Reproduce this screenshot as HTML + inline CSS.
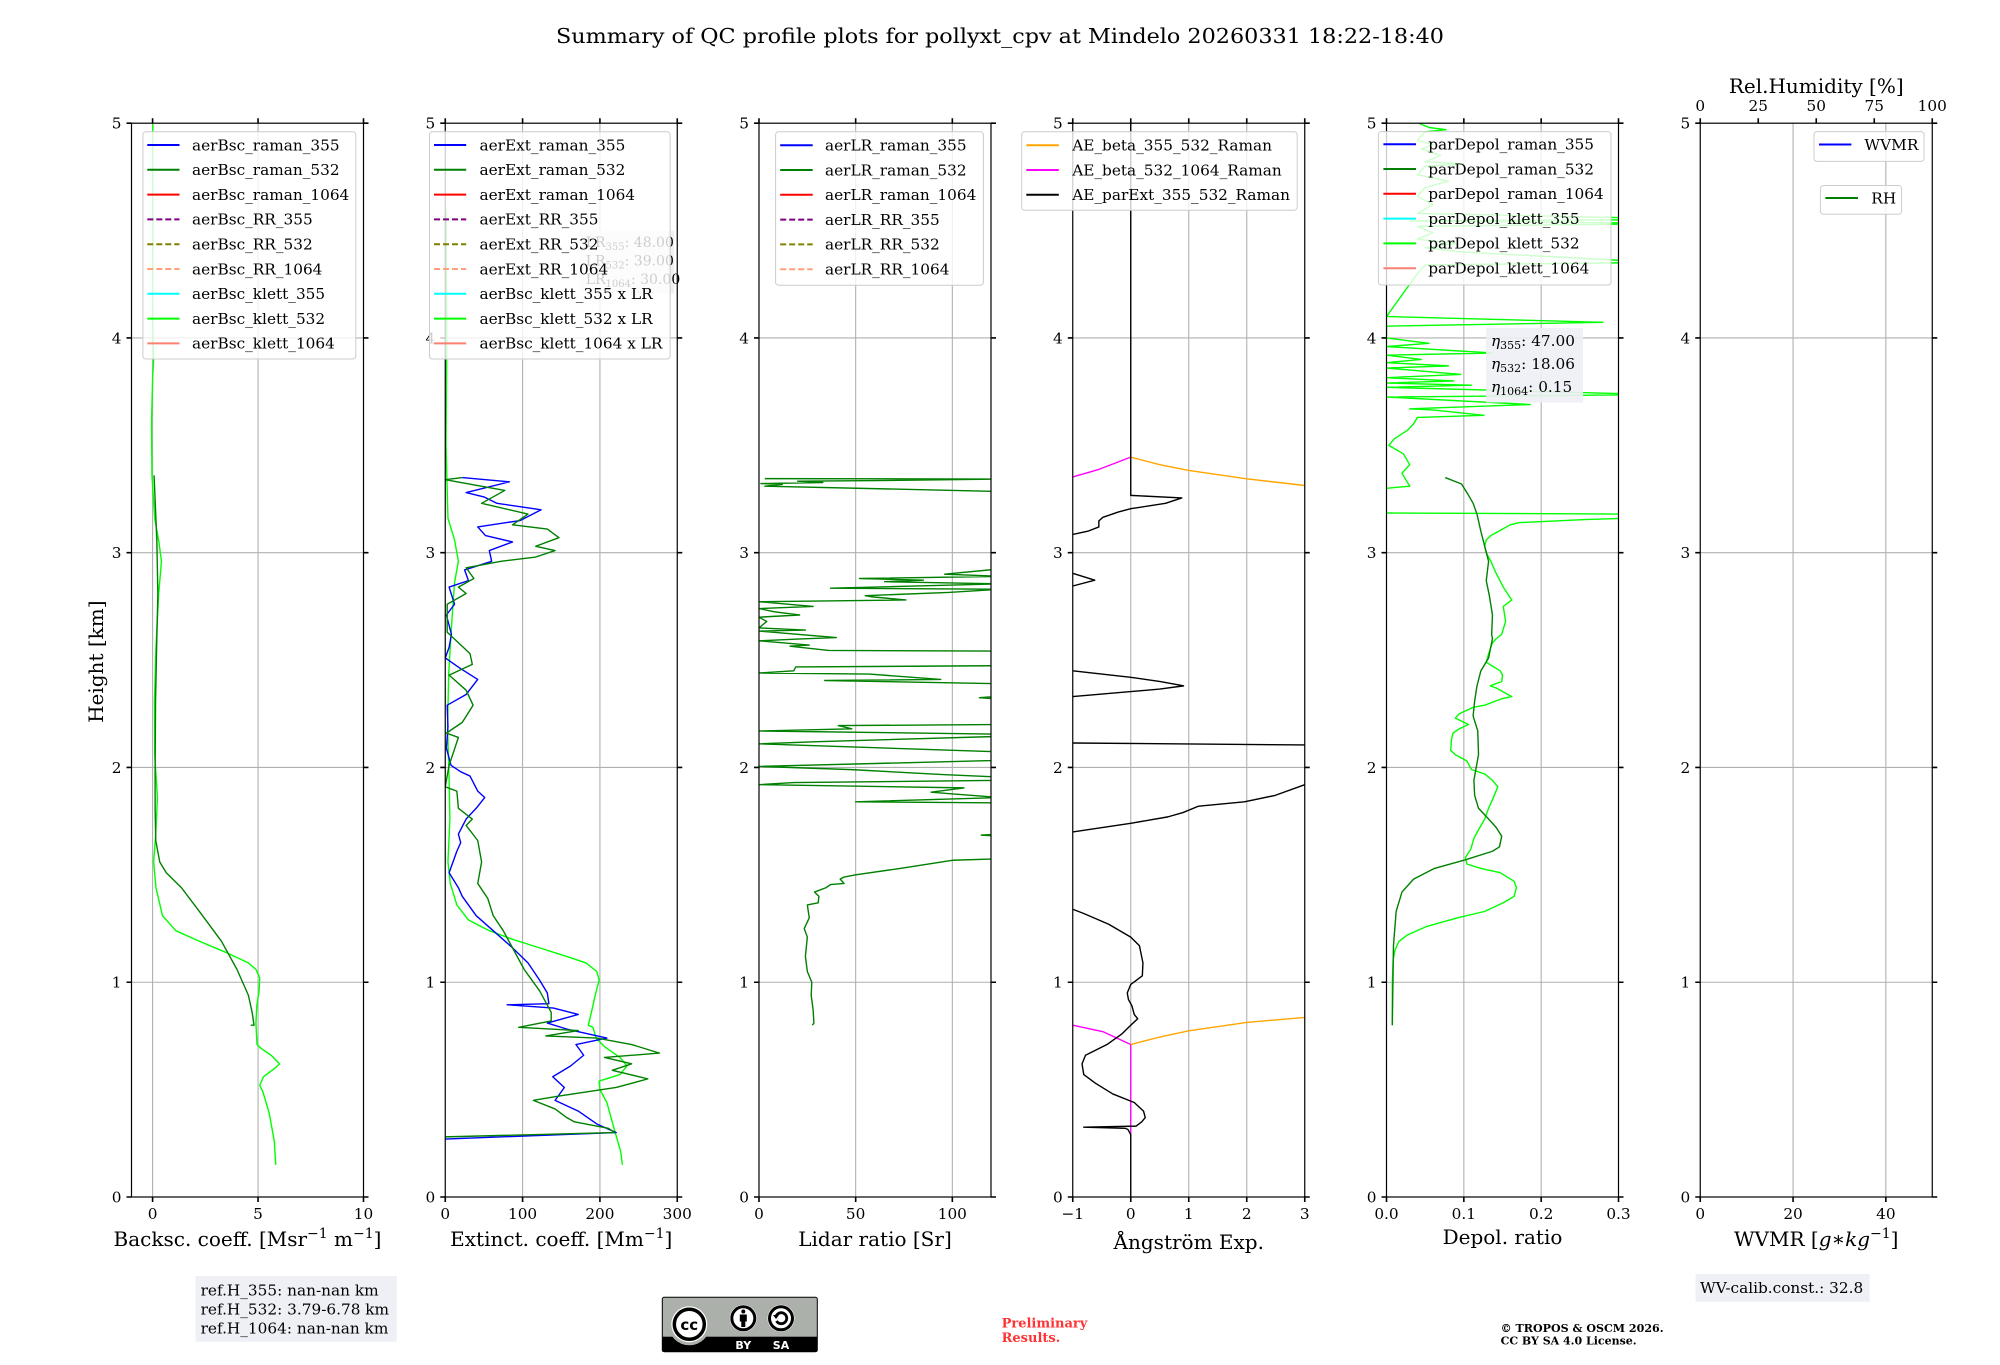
<!DOCTYPE html>
<html><head><meta charset="utf-8"><style>
html,body{margin:0;padding:0;background:#fff}
svg text{font-family:"DejaVu Serif","Liberation Serif",serif;fill:#000}
.d{fill:none;stroke-width:1.4;vector-effect:non-scaling-stroke;stroke-linejoin:round}
.g{stroke:#b0b0b0;stroke-width:1.1}
.t{stroke:#000;stroke-width:1.6}
.lg{fill:#fff;fill-opacity:0.8;stroke:#cccccc;stroke-width:1}
.h{stroke-width:2}
.f{font-size:15.3px}
.xl{font-size:20px}
</style></head><body>
<svg xmlns="http://www.w3.org/2000/svg" width="2000" height="1360" viewBox="0 0 2000 1360">
<defs>
<clipPath id="c1"><rect x="131.5" y="123.2" width="232" height="1073.8"/></clipPath>
<clipPath id="c2"><rect x="445.25" y="123.2" width="232" height="1073.8"/></clipPath>
<clipPath id="c3"><rect x="759" y="123.2" width="232" height="1073.8"/></clipPath>
<clipPath id="c4"><rect x="1072.75" y="123.2" width="232" height="1073.8"/></clipPath>
<clipPath id="c5"><rect x="1386.5" y="123.2" width="232" height="1073.8"/></clipPath>
</defs>
<rect width="2000" height="1360" fill="#fff"/>
<text x="1000" y="43" text-anchor="middle" style="font-size:20.8px" textLength="888" lengthAdjust="spacingAndGlyphs">Summary of QC profile plots for pollyxt_cpv at Mindelo 20260331 18:22-18:40</text>

<!-- horizontal gridlines all panels -->
<g class="g">
<path d="M131.5 982.24H363.5M131.5 767.48H363.5M131.5 552.72H363.5M131.5 337.96H363.5"/>
<path d="M445.25 982.24H677.25M445.25 767.48H677.25M445.25 552.72H677.25M445.25 337.96H677.25"/>
<path d="M759 982.24H991M759 767.48H991M759 552.72H991M759 337.96H991"/>
<path d="M1072.75 982.24H1304.75M1072.75 767.48H1304.75M1072.75 552.72H1304.75M1072.75 337.96H1304.75"/>
<path d="M1386.5 982.24H1618.5M1386.5 767.48H1618.5M1386.5 552.72H1618.5M1386.5 337.96H1618.5"/>
<path d="M1700.25 982.24H1932.25M1700.25 767.48H1932.25M1700.25 552.72H1932.25M1700.25 337.96H1932.25"/>
<!-- vertical -->
<path d="M152.59 123.2V1197M258.05 123.2V1197"/>
<path d="M522.58 123.2V1197M599.92 123.2V1197"/>
<path d="M855.67 123.2V1197M952.33 123.2V1197"/>
<path d="M1130.75 123.2V1197M1188.75 123.2V1197M1246.75 123.2V1197"/>
<path d="M1463.83 123.2V1197M1541.17 123.2V1197"/>
<path d="M1793.05 123.2V1197M1885.85 123.2V1197"/>
</g>

<!-- Panel 1 data -->
<g clip-path="url(#c1)"><g transform="translate(152.59,1197) scale(21.0909,-214.76)">
<polyline class="d" stroke="#00ff00" points="0.02,5.05 0,4.8 0.02,4.5 0,4.2 0.02,4 0.05,3.9 0,3.81 -0.05,3.6 -0.03,3.36 0.1,3.16 0.3,3.05 0.42,2.96 0.29,2.81 0.16,2.56 0.09,2.31 0.1,2.06 0.23,1.86 0.15,1.69 0.05,1.56 0.16,1.44 0.47,1.31 1.1,1.24 2,1.2 3.45,1.14 4.54,1.09 4.9,1.06 5.08,1.02 5.05,0.96 4.94,0.89 4.9,0.81 4.95,0.71 5.17,0.69 5.62,0.66 6.02,0.62 5.8,0.6 5.26,0.56 5.08,0.52 5.23,0.49 5.53,0.39 5.77,0.26 5.84,0.15"/>
<polyline class="d" stroke="#008000" points="0.07,3.36 0.2,3.06 0.25,2.81 0.2,2.6 0.14,2.31 0.12,2 0.12,1.81 0.15,1.66 0.34,1.56 0.65,1.51 1.37,1.44 2.37,1.31 3.27,1.19 4,1.06 4.54,0.94 4.72,0.86 4.81,0.8 4.68,0.8 4.8,0.8"/>
</g></g>

<!-- Panel 2 data -->
<g clip-path="url(#c2)"><g transform="translate(445.25,1197) scale(0.77333,-214.76)">
<polyline class="d" stroke="#00ff00" points="1,4.6 2,4 1,3.5 3.5,3.16 12,3.06 17,2.96 12,2.86 8.5,2.68 4.5,2.44 3,2.19 5,1.94 6,1.76 3.5,1.56 6.5,1.46 15,1.36 30,1.29 57,1.24 87,1.2 122,1.16 157,1.12 182,1.09 196,1.05 199,1.01 194,0.94 189,0.86 185,0.8 191,0.79 195,0.74 206,0.7 226,0.65 235,0.61 226,0.57 199,0.54 200,0.5 209,0.44 219,0.31 227,0.21 229,0.15"/>
<polyline class="d" stroke="#0000ff" points="22,3.35 83,3.33 27,3.28 50,3.26 67,3.23 124,3.2 97,3.15 42,3.12 52,3.08 87,3.05 57,3.01 60,2.96 25,2.92 30,2.87 5,2.84 12,2.76 1.5,2.71 8,2.62 5,2.56 0,2.51 20,2.46 42,2.41 27,2.34 2.5,2.29 3.5,2.19 1.5,2.09 7.5,2.01 20,1.98 32,1.96 42,1.89 51,1.86 40,1.81 27,1.76 17,1.69 20,1.65 15,1.61 5,1.51 17,1.44 22,1.4 30,1.36 40,1.31 62,1.24 87,1.16 107,1.09 122,1.01 132,0.95 134,0.9 80,0.895 140,0.88 172,0.85 132,0.81 159,0.78 209,0.74 169,0.71 179,0.66 162,0.61 139,0.56 154,0.51 142,0.45 172,0.4 196,0.34 221,0.3 0,0.27"/>
<polyline class="d" stroke="#008000" points="22,3.35 0,3.34 77,3.29 47,3.23 107,3.18 87,3.13 132,3.11 147,3.07 117,3.03 142,3.01 117,2.98 72,2.96 27,2.93 37,2.88 17,2.84 27,2.81 2.5,2.76 2.5,2.63 32,2.53 35,2.48 5,2.43 27,2.36 36,2.29 22,2.21 1.5,2.16 17,2.14 5,2.01 0,1.91 15,1.89 17,1.81 35,1.76 27,1.73 42,1.66 47,1.56 42,1.46 55,1.39 62,1.31 75,1.24 87,1.16 102,1.06 122,0.96 137,0.86 137,0.82 95,0.79 172,0.775 130,0.75 196,0.74 241,0.71 277,0.67 206,0.65 241,0.62 216,0.59 262,0.55 221,0.51 147,0.47 114,0.45 142,0.41 157,0.37 167,0.35 211,0.32 219,0.3 0,0.28"/>
</g></g>

<!-- Panel 3 data -->
<g clip-path="url(#c3)"><g transform="translate(759,1197) scale(1.93333,-214.76)">
<polyline class="d" stroke="#008000" points="3,3.345 125,3.343 62,3.336 20,3.333 33,3.327 1,3.322 12,3.318 3,3.31 125,3.285 300,3.1 125,2.925 96,2.9 125,2.89 52,2.88 85,2.872 65,2.865 125,2.855 37,2.835 125,2.83 98,2.815 55,2.8 58,2.795 76,2.78 0,2.772 28,2.75 0,2.74 8,2.725 21,2.71 0,2.7 4,2.68 0,2.65 24,2.64 0,2.635 40,2.605 20,2.598 0,2.59 26,2.57 16,2.565 36,2.545 125,2.542 200,2.5 125,2.474 19,2.468 18,2.45 0,2.44 57,2.435 94,2.41 34,2.405 125,2.39 150,2.35 114,2.325 125,2.318 200,2.25 125,2.2 41,2.195 48,2.18 0,2.17 125,2.155 125,2.145 30,2.12 0,2.11 200,2.05 0,2.005 48,1.99 95,1.967 125,1.955 125,1.94 18,1.93 0,1.92 106,1.905 89,1.885 101,1.876 125,1.86 50,1.84 125,1.835 200,1.75 125,1.69 115,1.685 125,1.68 200,1.62 125,1.575 100,1.568 73,1.53 50,1.5 44,1.49 42,1.48 44,1.46 37,1.455 34.6,1.44 28.7,1.42 31,1.4 30.6,1.37 25,1.36 26,1.3 23.4,1.25 25,1.21 24,1.12 25,1.05 27.3,1 27,0.94 28,0.87 28.4,0.81 27.6,0.8"/>
</g></g>

<!-- Panel 4 data -->
<g clip-path="url(#c4)"><g transform="translate(1130.75,1197) scale(58,-214.76)">
<polyline class="d" stroke="#ff00ff" points="-1,3.353 -0.55,3.388 0,3.445"/>
<polyline class="d" stroke="#ffa500" points="0,3.445 0.5,3.41 1,3.383 2,3.344 3,3.313"/>
<polyline class="d" stroke="#ff00ff" points="-1,0.8 -0.48,0.77 0,0.71 0,0.29"/>
<polyline class="d" stroke="#ffa500" points="0,0.71 0.5,0.745 1,0.774 2,0.813 3,0.836"/>
<polyline class="d" stroke="#000" points="0,5.1 0,3.267 0.88,3.255 0.6,3.23 0,3.205 -0.21,3.19 -0.48,3.165 -0.55,3.148 -0.55,3.12 -0.74,3.1 -1,3.085 -2,3 -1,2.904 -0.62,2.872 -1,2.845 -2,2.6 -1,2.45 0,2.42 0.51,2.4 0.91,2.38 0.5,2.365 -0.15,2.35 -1,2.33 -2,2.2 -1,2.114 3,2.105 4,2 3,1.92 2.49,1.87 1.96,1.84 1.17,1.82 0.9,1.79 0.64,1.77 0,1.74 -1,1.7 -2,1.5 -1,1.34 -0.81,1.32 -0.38,1.27 0,1.21 0.15,1.17 0.21,1.09 0.2,1.03 0,0.99 -0.06,0.95 -0.04,0.92 0.02,0.89 0.06,0.85 0.12,0.83 0,0.8 -0.15,0.76 -0.41,0.71 -0.78,0.66 -0.84,0.62 -0.81,0.57 -0.61,0.53 -0.31,0.48 0.06,0.44 0.22,0.4 0.25,0.37 0.19,0.35 0.09,0.33 -0.81,0.325 -0.1,0.32 -0.05,0.315 0,0.29 0,0"/>
</g></g>

<!-- Panel 5 data -->
<g clip-path="url(#c5)"><g transform="translate(1386.5,1197) scale(773.333,-214.76)">
<polyline class="d" stroke="#00ff00" points="0.042,5 0.055,4.98 0.077,4.97 0.05,4.96 0.04,4.92 0.06,4.9 0.045,4.88 0.07,4.85 0.05,4.82 0.1,4.81 0.05,4.8 0.04,4.76 0.08,4.73 0.05,4.7 0.04,4.66 0.06,4.62 0.04,4.58 0.31,4.56 0.31,4.55 0.03,4.545 0.31,4.535 0.31,4.53 0.04,4.52 0.06,4.49 0.04,4.46 0.09,4.44 0.05,4.42 0.1,4.4 0.31,4.36 0.31,4.35 0.05,4.34 0.04,4.3 0.03,4.25 0.02,4.2 0.01,4.15 0,4.1 0.28,4.073 0,4.055 0,4 0.055,3.975 0,3.96 0.137,3.93 0,3.92 0.045,3.9 0,3.885 0.08,3.87 0,3.86 0.096,3.83 0,3.815 0.087,3.8 0,3.79 0.11,3.78 0,3.77 0.31,3.74 0.31,3.735 0,3.725 0.186,3.69 0.03,3.67 0.06,3.665 0.126,3.64 0.04,3.63 0.035,3.6 0.027,3.57 0.01,3.53 0.003,3.5 0.022,3.46 0.03,3.41 0.02,3.37 0.025,3.34 0.03,3.31 0,3.3 -0.05,3.25 0,3.185 0.31,3.18 0.31,3.16 0.26,3.155 0.171,3.14 0.16,3.13 0.15,3.11 0.135,3.08 0.129,3.06 0.127,3.03 0.129,3 0.135,2.96 0.141,2.91 0.151,2.84 0.162,2.78 0.151,2.75 0.154,2.68 0.149,2.62 0.142,2.6 0.137,2.58 0.132,2.53 0.129,2.49 0.147,2.45 0.15,2.43 0.149,2.4 0.134,2.38 0.142,2.37 0.162,2.33 0.149,2.32 0.127,2.29 0.112,2.28 0.094,2.25 0.089,2.23 0.106,2.2 0.094,2.18 0.086,2.16 0.084,2.13 0.083,2.08 0.089,2.06 0.104,2.03 0.11,1.99 0.127,1.97 0.137,1.94 0.144,1.91 0.137,1.85 0.132,1.81 0.127,1.76 0.119,1.71 0.113,1.67 0.109,1.62 0.102,1.58 0.104,1.55 0.122,1.53 0.147,1.51 0.165,1.47 0.168,1.44 0.165,1.4 0.151,1.37 0.127,1.33 0.092,1.3 0.052,1.26 0.027,1.22 0.016,1.19 0.011,1.15 0.0085,1.1 0.0075,0.99 0.0075,0.8"/>
<polyline class="d" stroke="#008000" points="0.076,3.35 0.097,3.32 0.104,3.28 0.112,3.23 0.117,3.18 0.122,3.1 0.127,3.03 0.132,2.96 0.129,2.87 0.133,2.8 0.137,2.71 0.136,2.62 0.137,2.6 0.132,2.51 0.122,2.45 0.117,2.38 0.114,2.31 0.112,2.24 0.118,2.17 0.119,2.06 0.116,2 0.113,1.94 0.114,1.87 0.119,1.81 0.132,1.76 0.142,1.72 0.149,1.68 0.146,1.63 0.137,1.61 0.102,1.57 0.062,1.53 0.035,1.48 0.02,1.42 0.0125,1.33 0.009,1.17 0.0075,0.8"/>
</g></g>

<!-- spines -->
<g fill="none" stroke="#000" stroke-width="1.2">
<rect x="131.5" y="123.2" width="232" height="1073.8"/>
<rect x="445.25" y="123.2" width="232" height="1073.8"/>
<rect x="759" y="123.2" width="232" height="1073.8"/>
<rect x="1072.75" y="123.2" width="232" height="1073.8"/>
<rect x="1386.5" y="123.2" width="232" height="1073.8"/>
<rect x="1700.25" y="123.2" width="232" height="1073.8"/>
</g>

<!-- y ticks left & right for all panels -->
<g class="t">
<path d="M126.5 1197H131.5M126.5 982.24H131.5M126.5 767.48H131.5M126.5 552.72H131.5M126.5 337.96H131.5M126.5 123.2H131.5M363.5 1197H368.5M363.5 982.24H368.5M363.5 767.48H368.5M363.5 552.72H368.5M363.5 337.96H368.5M363.5 123.2H368.5"/>
<path d="M440.25 1197H445.25M440.25 982.24H445.25M440.25 767.48H445.25M440.25 552.72H445.25M440.25 337.96H445.25M440.25 123.2H445.25M677.25 1197H682.25M677.25 982.24H682.25M677.25 767.48H682.25M677.25 552.72H682.25M677.25 337.96H682.25M677.25 123.2H682.25"/>
<path d="M754 1197H759M754 982.24H759M754 767.48H759M754 552.72H759M754 337.96H759M754 123.2H759M991 1197H996M991 982.24H996M991 767.48H996M991 552.72H996M991 337.96H996M991 123.2H996"/>
<path d="M1067.75 1197H1072.75M1067.75 982.24H1072.75M1067.75 767.48H1072.75M1067.75 552.72H1072.75M1067.75 337.96H1072.75M1067.75 123.2H1072.75M1304.75 1197H1309.75M1304.75 982.24H1309.75M1304.75 767.48H1309.75M1304.75 552.72H1309.75M1304.75 337.96H1309.75M1304.75 123.2H1309.75"/>
<path d="M1381.5 1197H1386.5M1381.5 982.24H1386.5M1381.5 767.48H1386.5M1381.5 552.72H1386.5M1381.5 337.96H1386.5M1381.5 123.2H1386.5M1618.5 1197H1623.5M1618.5 982.24H1623.5M1618.5 767.48H1623.5M1618.5 552.72H1623.5M1618.5 337.96H1623.5M1618.5 123.2H1623.5"/>
<path d="M1695.25 1197H1700.25M1695.25 982.24H1700.25M1695.25 767.48H1700.25M1695.25 552.72H1700.25M1695.25 337.96H1700.25M1695.25 123.2H1700.25M1932.25 1197H1937.25M1932.25 982.24H1937.25M1932.25 767.48H1937.25M1932.25 552.72H1937.25M1932.25 337.96H1937.25M1932.25 123.2H1937.25"/>
<!-- x ticks bottom/top -->
<path d="M152.59 1197V1202M258.05 1197V1202M363.5 1197V1202M152.59 123.2V118.2M258.05 123.2V118.2M363.5 123.2V118.2"/>
<path d="M445.25 1197V1202M522.58 1197V1202M599.92 1197V1202M677.25 1197V1202M445.25 123.2V118.2M522.58 123.2V118.2M599.92 123.2V118.2M677.25 123.2V118.2"/>
<path d="M759 1197V1202M855.67 1197V1202M952.33 1197V1202M759 123.2V118.2M855.67 123.2V118.2M952.33 123.2V118.2"/>
<path d="M1072.75 1197V1202M1130.75 1197V1202M1188.75 1197V1202M1246.75 1197V1202M1304.75 1197V1202M1072.75 123.2V118.2M1130.75 123.2V118.2M1188.75 123.2V118.2M1246.75 123.2V118.2M1304.75 123.2V118.2"/>
<path d="M1386.5 1197V1202M1463.83 1197V1202M1541.17 1197V1202M1618.5 1197V1202M1386.5 123.2V118.2M1463.83 123.2V118.2M1541.17 123.2V118.2M1618.5 123.2V118.2"/>
<path d="M1700.25 1197V1202M1793.05 1197V1202M1885.85 1197V1202M1700.25 123.2V118.2M1758.25 123.2V118.2M1816.25 123.2V118.2M1874.25 123.2V118.2M1932.25 123.2V118.2"/>
</g>

<!-- y tick labels -->
<g class="f" text-anchor="end">
<text x="121.5" y="1202.5">0</text><text x="121.5" y="987.7">1</text><text x="121.5" y="773">2</text><text x="121.5" y="558.2">3</text><text x="121.5" y="343.5">4</text><text x="121.5" y="128.7">5</text>
<text x="435.25" y="1202.5">0</text><text x="435.25" y="987.7">1</text><text x="435.25" y="773">2</text><text x="435.25" y="558.2">3</text><text x="435.25" y="343.5">4</text><text x="435.25" y="128.7">5</text>
<text x="749" y="1202.5">0</text><text x="749" y="987.7">1</text><text x="749" y="773">2</text><text x="749" y="558.2">3</text><text x="749" y="343.5">4</text><text x="749" y="128.7">5</text>
<text x="1062.75" y="1202.5">0</text><text x="1062.75" y="987.7">1</text><text x="1062.75" y="773">2</text><text x="1062.75" y="558.2">3</text><text x="1062.75" y="343.5">4</text><text x="1062.75" y="128.7">5</text>
<text x="1376.5" y="1202.5">0</text><text x="1376.5" y="987.7">1</text><text x="1376.5" y="773">2</text><text x="1376.5" y="558.2">3</text><text x="1376.5" y="343.5">4</text><text x="1376.5" y="128.7">5</text>
<text x="1690.25" y="1202.5">0</text><text x="1690.25" y="987.7">1</text><text x="1690.25" y="773">2</text><text x="1690.25" y="558.2">3</text><text x="1690.25" y="343.5">4</text><text x="1690.25" y="128.7">5</text>
</g>
<!-- x tick labels -->
<g class="f" text-anchor="middle">
<text x="152.59" y="1219">0</text><text x="258.05" y="1219">5</text><text x="363.5" y="1219">10</text>
<text x="445.25" y="1219">0</text><text x="522.58" y="1219">100</text><text x="599.92" y="1219">200</text><text x="677.25" y="1219">300</text>
<text x="759" y="1219">0</text><text x="855.67" y="1219">50</text><text x="952.33" y="1219">100</text>
<text x="1072.75" y="1219">−1</text><text x="1130.75" y="1219">0</text><text x="1188.75" y="1219">1</text><text x="1246.75" y="1219">2</text><text x="1304.75" y="1219">3</text>
<text x="1386.5" y="1219">0.0</text><text x="1463.83" y="1219">0.1</text><text x="1541.17" y="1219">0.2</text><text x="1618.5" y="1219">0.3</text>
<text x="1700.25" y="1219">0</text><text x="1793.05" y="1219">20</text><text x="1885.85" y="1219">40</text>
<text x="1700.25" y="111">0</text><text x="1758.25" y="111">25</text><text x="1816.25" y="111">50</text><text x="1874.25" y="111">75</text><text x="1932.25" y="111">100</text>
</g>

<!-- axis labels -->
<g class="xl" text-anchor="middle">
<text x="247.5" y="1246">Backsc. coeff. [Msr<tspan dy="-8" font-size="14">−1</tspan><tspan dy="8"> m</tspan><tspan dy="-8" font-size="14">−1</tspan><tspan dy="8">]</tspan></text>
<text x="561.25" y="1246">Extinct. coeff. [Mm<tspan dy="-8" font-size="14">−1</tspan><tspan dy="8">]</tspan></text>
<text x="875" y="1246">Lidar ratio [Sr]</text>
<text x="1188.75" y="1249">Ångström Exp.</text>
<text x="1502.5" y="1244">Depol. ratio</text>
<text x="1816.25" y="1246">WVMR [<tspan font-style="italic">g</tspan>∗<tspan font-style="italic">kg</tspan><tspan dy="-8" font-size="14">−1</tspan><tspan dy="8">]</tspan></text>
<text x="1816.25" y="93">Rel.Humidity [%]</text>
<text transform="translate(103,661.7) rotate(-90)">Height [km]</text>
</g>

<!-- LR text box panel 2 (under legend) -->
<rect x="579.5" y="230.7" width="94.5" height="62.6" fill="#eef0f5"/>
<g style="font-size:14px" fill="#333">
<text x="585.7" y="247">LR<tspan font-size="10" dy="3">355</tspan><tspan dy="-3">: 48.00</tspan></text>
<text x="585.7" y="265.5">LR<tspan font-size="10" dy="3">532</tspan><tspan dy="-3">: 39.00</tspan></text>
<text x="585.7" y="284">LR<tspan font-size="10" dy="3">1064</tspan><tspan dy="-3">: 30.00</tspan></text>
</g>

<!-- Legend panel 1 -->
<rect class="lg" x="142.9" y="131.7" width="212.9" height="227.3" rx="3"/>
<g class="h" fill="none">
<path d="M147.3 145H179.5" stroke="#0000ff"/>
<path d="M147.3 169.8H179.5" stroke="#008000"/>
<path d="M147.3 194.6H179.5" stroke="#ff0000"/>
<path d="M147.3 219.4H179.5" stroke="#800080" stroke-dasharray="6,3"/>
<path d="M147.3 244.2H179.5" stroke="#808000" stroke-dasharray="6,3"/>
<path d="M147.3 269H179.5" stroke="#ffa07a" stroke-dasharray="6,3"/>
<path d="M147.3 293.8H179.5" stroke="#00ffff"/>
<path d="M147.3 318.6H179.5" stroke="#00ff00"/>
<path d="M147.3 343.4H179.5" stroke="#fa8072"/>
</g>
<g class="f">
<text x="192" y="150.3">aerBsc_raman_355</text>
<text x="192" y="175.1">aerBsc_raman_532</text>
<text x="192" y="199.9">aerBsc_raman_1064</text>
<text x="192" y="224.7">aerBsc_RR_355</text>
<text x="192" y="249.5">aerBsc_RR_532</text>
<text x="192" y="274.3">aerBsc_RR_1064</text>
<text x="192" y="299.1">aerBsc_klett_355</text>
<text x="192" y="323.9">aerBsc_klett_532</text>
<text x="192" y="348.7">aerBsc_klett_1064</text>
</g>

<!-- Legend panel 2 -->
<rect class="lg" x="429.5" y="131.7" width="240.6" height="227.3" rx="3"/>
<g class="h" fill="none">
<path d="M434 145H466.2" stroke="#0000ff"/>
<path d="M434 169.8H466.2" stroke="#008000"/>
<path d="M434 194.6H466.2" stroke="#ff0000"/>
<path d="M434 219.4H466.2" stroke="#800080" stroke-dasharray="6,3"/>
<path d="M434 244.2H466.2" stroke="#808000" stroke-dasharray="6,3"/>
<path d="M434 269H466.2" stroke="#ffa07a" stroke-dasharray="6,3"/>
<path d="M434 293.8H466.2" stroke="#00ffff"/>
<path d="M434 318.6H466.2" stroke="#00ff00"/>
<path d="M434 343.4H466.2" stroke="#fa8072"/>
</g>
<g class="f">
<text x="479.5" y="150.3">aerExt_raman_355</text>
<text x="479.5" y="175.1">aerExt_raman_532</text>
<text x="479.5" y="199.9">aerExt_raman_1064</text>
<text x="479.5" y="224.7">aerExt_RR_355</text>
<text x="479.5" y="249.5">aerExt_RR_532</text>
<text x="479.5" y="274.3">aerExt_RR_1064</text>
<text x="479.5" y="299.1">aerBsc_klett_355 x LR</text>
<text x="479.5" y="323.9">aerBsc_klett_532 x LR</text>
<text x="479.5" y="348.7">aerBsc_klett_1064 x LR</text>
</g>

<!-- Legend panel 3 -->
<rect class="lg" x="775.6" y="131.8" width="207.8" height="153.4" rx="3"/>
<g class="h" fill="none">
<path d="M780.2 145.2H812.7" stroke="#0000ff"/>
<path d="M780.2 170H812.7" stroke="#008000"/>
<path d="M780.2 194.8H812.7" stroke="#ff0000"/>
<path d="M780.2 219.6H812.7" stroke="#800080" stroke-dasharray="6,3"/>
<path d="M780.2 244.4H812.7" stroke="#808000" stroke-dasharray="6,3"/>
<path d="M780.2 269.2H812.7" stroke="#ffa07a" stroke-dasharray="6,3"/>
</g>
<g class="f">
<text x="825" y="150.5">aerLR_raman_355</text>
<text x="825" y="175.3">aerLR_raman_532</text>
<text x="825" y="200.1">aerLR_raman_1064</text>
<text x="825" y="224.9">aerLR_RR_355</text>
<text x="825" y="249.7">aerLR_RR_532</text>
<text x="825" y="274.5">aerLR_RR_1064</text>
</g>

<!-- Legend panel 4 -->
<rect class="lg" x="1021.7" y="131.8" width="275.5" height="78.4" rx="3"/>
<g class="h" fill="none">
<path d="M1026.3 145.2H1058.8" stroke="#ffa500"/>
<path d="M1026.3 170H1058.8" stroke="#ff00ff"/>
<path d="M1026.3 194.8H1058.8" stroke="#000"/>
</g>
<g class="f">
<text x="1072.2" y="150.5">AE_beta_355_532_Raman</text>
<text x="1072.2" y="175.3">AE_beta_532_1064_Raman</text>
<text x="1072.2" y="200.1">AE_parExt_355_532_Raman</text>
</g>

<!-- Eta box panel 5 -->
<rect x="1486" y="328" width="97" height="74.5" fill="#eef0f5" fill-opacity="0.9"/>
<g class="f">
<text x="1491" y="346"><tspan font-style="italic">η</tspan><tspan font-size="11" dy="3">355</tspan><tspan dy="-3">: 47.00</tspan></text>
<text x="1491" y="369"><tspan font-style="italic">η</tspan><tspan font-size="11" dy="3">532</tspan><tspan dy="-3">: 18.06</tspan></text>
<text x="1491" y="392"><tspan font-style="italic">η</tspan><tspan font-size="11" dy="3">1064</tspan><tspan dy="-3">: 0.15</tspan></text>
</g>

<!-- Legend panel 5 -->
<rect class="lg" x="1378.4" y="131.6" width="232.6" height="153.4" rx="3"/>
<g class="h" fill="none">
<path d="M1383.4 144.2H1416" stroke="#0000ff"/>
<path d="M1383.4 169H1416" stroke="#008000"/>
<path d="M1383.4 193.8H1416" stroke="#ff0000"/>
<path d="M1383.4 218.6H1416" stroke="#00ffff"/>
<path d="M1383.4 243.4H1416" stroke="#00ff00"/>
<path d="M1383.4 268.2H1416" stroke="#fa8072"/>
</g>
<g class="f">
<text x="1428.2" y="149.5">parDepol_raman_355</text>
<text x="1428.2" y="174.3">parDepol_raman_532</text>
<text x="1428.2" y="199.1">parDepol_raman_1064</text>
<text x="1428.2" y="223.9">parDepol_klett_355</text>
<text x="1428.2" y="248.7">parDepol_klett_532</text>
<text x="1428.2" y="273.5">parDepol_klett_1064</text>
</g>

<!-- Legends panel 6 -->
<rect class="lg" x="1814" y="131.6" width="110" height="29.8" rx="3"/>
<path d="M1819 144.5H1851.4" stroke="#0000ff" stroke-width="2"/>
<text class="f" x="1864.4" y="149.8">WVMR</text>
<rect class="lg" x="1820.4" y="185.5" width="81.2" height="28.7" rx="3"/>
<path d="M1825.4 198H1858" stroke="#008000" stroke-width="2"/>
<text class="f" x="1871.3" y="203.3">RH</text>

<!-- bottom boxes -->
<rect x="195.5" y="1276" width="201.3" height="65.7" fill="#eef0f5"/>
<g class="f">
<text x="200.6" y="1295.3">ref.H_355: nan-nan km</text>
<text x="200.6" y="1314.5">ref.H_532: 3.79-6.78 km</text>
<text x="200.6" y="1333.6">ref.H_1064: nan-nan km</text>
</g>
<rect x="1695.5" y="1274" width="174.1" height="27.7" fill="#eef0f5"/>
<text class="f" x="1700" y="1293">WV-calib.const.: 32.8</text>

<text x="1001.6" y="1327.5" style="font-size:13px;font-weight:bold;fill:#ff3333">Preliminary</text>
<text x="1001.6" y="1342.2" style="font-size:13px;font-weight:bold;fill:#ff3333">Results.</text>
<text x="1500.6" y="1332" style="font-size:11px;font-weight:bold" textLength="163" lengthAdjust="spacingAndGlyphs">© TROPOS &amp; OSCM 2026.</text>
<text x="1500.6" y="1344.7" style="font-size:11px;font-weight:bold">CC BY SA 4.0 License.</text>

<!-- CC BY-SA badge -->
<g>
<rect x="662.3" y="1297.3" width="155" height="54.4" rx="2" fill="#abb1aa" stroke="#000" stroke-width="1"/>
<rect x="662.3" y="1336.7" width="155" height="15" fill="#000"/>
<circle cx="689.3" cy="1324.3" r="21" fill="#abb1aa"/>
<circle cx="689.3" cy="1324.3" r="18" fill="#fff"/>
<circle cx="689.3" cy="1324.3" r="15" fill="#fff" stroke="#000" stroke-width="3.5"/>
<text x="689.3" y="1329.8" text-anchor="middle" style="font-family:'DejaVu Sans',sans-serif;font-weight:bold;font-size:15px">cc</text>
<circle cx="743.3" cy="1318.3" r="13.5" fill="#fff"/>
<circle cx="743.3" cy="1318.3" r="11.5" fill="#fff" stroke="#000" stroke-width="3"/>
<circle cx="743.3" cy="1311.5" r="2" fill="#000"/>
<rect x="739.8" y="1314.5" width="7" height="7" fill="#000"/>
<rect x="741.3" y="1321" width="4" height="6" fill="#000"/>
<circle cx="781" cy="1318.3" r="13.5" fill="#fff"/>
<circle cx="781" cy="1318.3" r="11.5" fill="#fff" stroke="#000" stroke-width="3"/>
<path d="M776 1316.5 A5.5 5.5 0 1 1 776.5 1321" fill="none" stroke="#000" stroke-width="2.8"/>
<path d="M773 1315 L779 1315 L776 1319 Z" fill="#000"/>
<text x="743.3" y="1348.8" text-anchor="middle" style="font-family:'DejaVu Sans',sans-serif;font-weight:bold;font-size:11px;fill:#fff">BY</text>
<text x="781" y="1348.8" text-anchor="middle" style="font-family:'DejaVu Sans',sans-serif;font-weight:bold;font-size:11px;fill:#fff">SA</text>
</g>
</svg>
</body></html>
